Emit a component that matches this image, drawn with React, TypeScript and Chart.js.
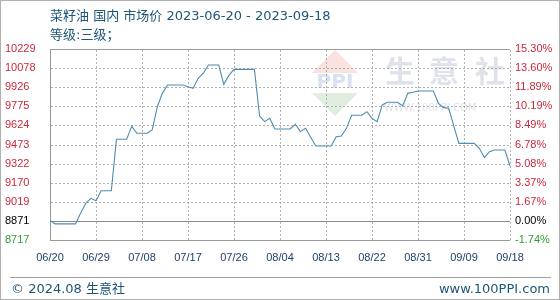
import React, { useEffect, useRef } from 'react';
import { Chart, registerables } from 'chart.js';

Chart.register(...registerables);

// ---- data ----
const startDate = '2023-06-20';
const dayCount = 91;
const prices: number[] = [
  8871, 8845, 8845, 8845, 8845, 8845, 8930, 9008, 9047, 9028,
  9107, 9107, 9107, 9514, 9514, 9514, 9619, 9562, 9562, 9562,
  9588, 9772, 9880, 9944, 9944, 9944, 9944, 9930, 9918, 9997,
  10037, 10102, 10102, 10102, 9949, 10020, 10068, 10068, 10068, 10068,
  10068, 9699, 9654, 9680, 9596, 9596, 9596, 9596, 9633, 9575,
  9601, 9530, 9461, 9461, 9461, 9461, 9535, 9540, 9601, 9704,
  9704, 9704, 9733, 9680, 9654, 9786, 9807, 9807, 9807, 9778,
  9878, 9886, 9897, 9897, 9897, 9897, 9799, 9765, 9760, 9620,
  9482, 9482, 9482, 9482, 9443, 9369, 9416, 9429, 9429, 9429,
  9303,
];
const leftTickLabels = ['10229', '10078', '9926', '9775', '9624', '9473', '9322', '9170', '9019', '8871', '8717'];
const rightTickLabels = ['15.30%', '13.60%', '11.89%', '10.19%', '8.49%', '6.78%', '5.08%', '3.37%', '1.67%', '0.00%', '-1.74%'];
const yMin = 8717;
const yMax = 10229;
const xTickEvery = 9;

const titleLine1 = '菜籽油 国内 市场价 2023-06-20 - 2023-09-18';
const titleLine2 = '等级:三级；';
const footerLeft = '© 2024.08 生意社';
const footerRight = 'www.100PPI.com';

function buildDates(): string[] {
  const out: string[] = [];
  const d0 = new Date(startDate + 'T00:00:00Z');
  for (let i = 0; i < dayCount; i++) {
    const d = new Date(d0.getTime() + i * 86400000);
    const mm = String(d.getUTCMonth() + 1).padStart(2, '0');
    const dd = String(d.getUTCDate()).padStart(2, '0');
    out.push(`${mm}/${dd}`);
  }
  return out;
}

const tickFont = { family: '"Liberation Sans", Arial, sans-serif', size: 11 };
const RED = '#c8283c';
const GREEN = '#2f9a3a';
const BLACK = '#000000';
const GRID = '#b0b0b0';

function tickColor(idxFromBottom: number) {
  if (idxFromBottom === 0) return GREEN;
  if (idxFromBottom === 1) return BLACK;
  return RED;
}

const evenTicks = (scale: any) => {
  const n = leftTickLabels.length;
  const arr = [];
  for (let i = 0; i < n; i++) arr.push({ value: yMin + ((yMax - yMin) * i) / (n - 1) });
  scale.ticks = arr;
};

const framePlugin = {
  id: 'frameAndMark',
  beforeDatasetsDraw(chart: any) {
    const { ctx, chartArea, scales } = chart;
    const { left, right, top, bottom } = chartArea;
    const y = scales.y;
    const x = scales.x;
    ctx.save();

    // watermark logo
    ctx.fillStyle = 'rgba(236,150,140,0.28)';
    ctx.beginPath();
    ctx.moveTo(335, 50);
    ctx.lineTo(358, 73);
    ctx.lineTo(312, 73);
    ctx.closePath();
    ctx.fill();
    ctx.fillStyle = 'rgba(150,200,150,0.3)';
    ctx.beginPath();
    ctx.moveTo(312, 93);
    ctx.lineTo(358, 93);
    ctx.lineTo(335, 116);
    ctx.closePath();
    ctx.fill();
    ctx.fillStyle = 'rgba(160,180,215,0.4)';
    ctx.font = 'bold 20px "DejaVu Sans", sans-serif';
    ctx.textAlign = 'center';
    ctx.textBaseline = 'middle';
    ctx.fillText('PPI', 335, 83);
    ctx.fillStyle = 'rgba(185,190,210,0.45)';
    ctx.font = 'bold 30px "Noto Sans CJK SC", sans-serif';
    ctx.fillText('生', 400, 71);
    ctx.fillText('意', 444, 71);
    ctx.fillText('社', 490, 71);
    ctx.fillStyle = 'rgba(190,195,210,0.5)';
    ctx.font = '10px "DejaVu Sans", sans-serif';
    ctx.textAlign = 'left';
    ctx.fillText('WWW.100PPI.COM', 384, 108);

    // dashed grid drawn as small rects
    ctx.fillStyle = GRID;
    const L = Math.round(left);
    const R = Math.round(right);
    const T = Math.round(top);
    const B = Math.round(bottom);
    y.ticks.forEach((t: any, i: number) => {
      if (i <= 1 || i >= y.ticks.length - 1) return;
      const py = Math.round(y.getPixelForValue(t.value));
      for (let px = L + 1; px < R; px += 4) ctx.fillRect(px, py, Math.min(2, R - px), 1);
    });
    x.ticks.forEach((t: any) => {
      const px = Math.round(x.getPixelForValue(t.value));
      if (px < L + 2) return;
      for (let py = T + 1; py < B; py += 4) ctx.fillRect(px, py, 1, Math.min(2, B - py));
    });

    // frame
    ctx.fillStyle = '#9a9a9a';
    ctx.fillRect(L, T, R - L, 1);
    ctx.fillRect(L, B, R - L, 1);
    ctx.fillRect(L, T, 1, B - T);

    // zero line
    const zy = Math.round(y.getPixelForValue(y.ticks[1].value));
    ctx.fillStyle = '#8c8c8c';
    ctx.fillRect(L, zy, R - L, 1);
    ctx.restore();
  },
};

export default function App() {
  const ref = useRef<HTMLCanvasElement | null>(null);

  useEffect(() => {
    if (!ref.current) return;
    const labels = buildDates();
    const chart = new Chart(ref.current, {
      type: 'line',
      data: {
        labels,
        datasets: [
          {
            data: prices,
            borderColor: '#4f8cb2',
            borderWidth: 1.1,
            pointRadius: 0,
            tension: 0,
            fill: false,
          },
        ],
      },
      options: {
        animation: false,
        responsive: false,
        maintainAspectRatio: false,
        layout: { padding: { top: 49, left: 5, right: 0, bottom: 0 } },
        plugins: { legend: { display: false }, tooltip: { enabled: false }, title: { display: false } },
        scales: {
          x: {
            type: 'category',
            grid: { display: false, drawTicks: false },
            border: { display: false },
            afterBuildTicks: (scale: any) => {
              scale.ticks = scale.ticks.filter((t: any) => t.value % xTickEvery === 0);
            },
            afterFit: (scale: any) => {
              scale.height = 60;
            },
            ticks: {
              autoSkip: false,
              maxRotation: 0,
              padding: 11,
              color: '#1f3f6a',
              font: tickFont,
            },
          },
          y: {
            position: 'left',
            min: yMin,
            max: yMax,
            grid: { display: false, drawTicks: false },
            border: { display: false },
            afterBuildTicks: evenTicks,
            afterFit: (scale: any) => {
              scale.width = 45;
            },
            ticks: {
              crossAlign: 'far',
              padding: 5,
              font: tickFont,
              color: (ctx: any) => tickColor(ctx.index),
              callback: (_v: any, i: number) => leftTickLabels[leftTickLabels.length - 1 - i],
            },
          },
          y2: {
            position: 'right',
            min: yMin,
            max: yMax,
            grid: { display: false, drawTicks: false },
            border: { display: false },
            afterBuildTicks: evenTicks,
            afterFit: (scale: any) => {
              scale.width = 50;
            },
            ticks: {
              crossAlign: 'near',
              padding: 5,
              font: tickFont,
              color: (ctx: any) => tickColor(ctx.index),
              callback: (_v: any, i: number) => rightTickLabels[rightTickLabels.length - 1 - i],
            },
          },
        },
      },
      plugins: [framePlugin],
    });
    return () => chart.destroy();
  }, []);

  const textFont = '"DejaVu Sans", "Noto Sans CJK SC", sans-serif';
  return (
    <div
      style={{
        position: 'fixed',
        left: 0,
        top: 0,
        width: 560,
        height: 300,
        background: '#fff',
        boxSizing: 'border-box',
        border: '1px solid #b0b0b0',
        overflow: 'hidden',
      }}
    >
      <canvas ref={ref} width={560} height={300} style={{ position: 'absolute', left: -1, top: -1, width: 560, height: 300 }} />
      <div style={{ position: 'absolute', left: 49, top: 6, fontFamily: textFont, fontSize: 13, color: '#1e5578', whiteSpace: 'nowrap', lineHeight: '18px' }}>
        {titleLine1}
      </div>
      <div style={{ position: 'absolute', left: 49, top: 25, fontFamily: textFont, fontSize: 13, color: '#1e5578', whiteSpace: 'nowrap', lineHeight: '18px' }}>
        {titleLine2}
      </div>
      <div style={{ position: 'absolute', left: 9, right: 8, top: 276, height: 1, background: '#a0a0a0' }} />
      <div style={{ position: 'absolute', left: 10, top: 279, fontFamily: textFont, fontSize: 13, color: '#1e5578', whiteSpace: 'nowrap', lineHeight: '18px' }}>
        {footerLeft}
      </div>
      <div style={{ position: 'absolute', right: 9, top: 279, fontFamily: textFont, fontSize: 13, color: '#1e5578', whiteSpace: 'nowrap', lineHeight: '18px' }}>
        {footerRight}
      </div>
    </div>
  );
}
